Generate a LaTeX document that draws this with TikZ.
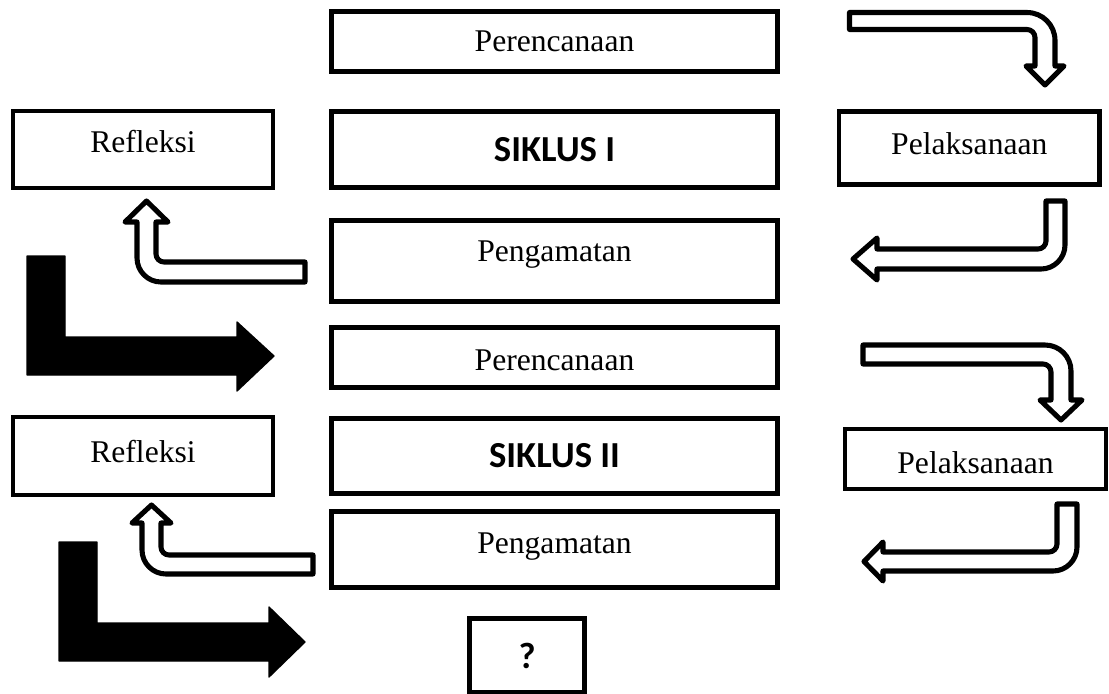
\documentclass[tikz,border=0pt]{standalone}
\usepackage{fontspec}
\setmainfont{Liberation Serif}
\newfontfamily\cali{Carlito}
\usepackage{tikz}

\begin{document}
\begin{tikzpicture}[
		x=0.75pt, y=-0.75pt,
		box/.style={draw, line width=3.9pt, rectangle, minimum width=334.5pt, inner sep=0pt, font=\fontsize{23.7}{28}\selectfont},
		siklus/.style={box, font=\cali\bfseries\fontsize{27.5}{32}\selectfont},
		sidebox/.style={draw, line width=3.4pt, rectangle, minimum width=195pt, inner sep=0pt, font=\fontsize{23.7}{28}\selectfont},
		hollow/.style={draw, fill=white, line width=3.8pt, line join=round},
		fatarrow/.style={draw, fill=black, line width=1pt, line join=round}
	]
	\useasboundingbox (0,0) rectangle (1109,693);

	% Draw the boxes
	\node[box, minimum height=45pt] (plan1) at (554.5,41.5) {Perencanaan};
	\node[siklus, minimum height=57pt] (cyc1) at (554.5,149.5) {SIKLUS I};
	\node[box, minimum height=60.75pt, text depth=14.1pt] (obs1) at (554.5,261) {Pengamatan};
	\node[box, minimum height=45pt, text height=20.2pt] (plan2) at (554.5,357.5) {Perencanaan};
	\node[siklus, minimum height=56.25pt] (cyc2) at (554.5,456) {SIKLUS II};
	\node[box, minimum height=57pt, text depth=10pt] (obs2) at (554.5,549.5) {Pengamatan};
	\node[siklus, minimum width=86.25pt, minimum height=55.9pt] (next) at (527,655.75) {?};

	\node[sidebox, minimum height=57.75pt, text depth=11.7pt] (refl1) at (143,149.5) {Refleksi};
	\node[sidebox, minimum height=58.5pt, text depth=6.4pt] (refl2) at (143,456) {Refleksi};
	\node[sidebox, minimum width=195.5pt, minimum height=55pt, text depth=6.4pt] (act1) at (969.3,148) {Pelaksanaan};
	\node[sidebox, minimum width=195.75pt, minimum height=45pt, text height=21.4pt] (act2) at (975.5,459) {Pelaksanaan};

	% Draw the arrows, cycle I
	\draw[hollow] (849.5,12.5) -- (1027,12.5) .. controls (1042.5,12.5) and (1055,25) .. (1055,40.5)
		-- (1055,66) -- (1064,66) -- (1045,85) -- (1026,66) -- (1035,66) -- (1035,37.5)
		.. controls (1035,33.1) and (1031.4,29.5) .. (1027,29.5) -- (849.5,29.5) -- cycle;
	\draw[hollow] (1046,201) -- (1065,201) -- (1065,245) .. controls (1065,258.2) and (1054.2,269) .. (1041,269)
		-- (877,269) -- (877,280) -- (853,259) -- (877,238) -- (877,249) -- (1038,249)
		.. controls (1042.4,249) and (1046,245.4) .. (1046,241) -- cycle;
	\draw[hollow] (305,262) -- (164,262) .. controls (159.6,262) and (156,258.4) .. (156,254)
		-- (156,222) -- (168,222) -- (146.5,201) -- (125,222) -- (137,222) -- (137,258)
		.. controls (137,271.2) and (147.8,282) .. (161,282) -- (305,282) -- cycle;
	\draw[fatarrow] (27,256) -- (65,256) -- (65,337) -- (237,337) -- (237,322) -- (274,356)
		-- (237,391) -- (237,375) -- (27,375) -- cycle;

	% Draw the arrows, cycle II
	\draw[hollow] (863,345) -- (1045,345) .. controls (1059.4,345) and (1071,356.6) .. (1071,371)
		-- (1071,400) -- (1082,400) -- (1061,420) -- (1040,400) -- (1051,400) -- (1051,372)
		.. controls (1051,367.6) and (1047.4,364) .. (1043,364) -- (863,364) -- cycle;
	\draw[hollow] (1057,504) -- (1077,504) -- (1077,547) .. controls (1077,560.2) and (1066.2,571) .. (1053,571)
		-- (883,571) -- (883,581) -- (864,561.5) -- (883,542) -- (883,552) -- (1049,552)
		.. controls (1053.4,552) and (1057,548.4) .. (1057,544) -- cycle;
	\draw[hollow] (313,555) -- (169,555) .. controls (164.6,555) and (161,551.4) .. (161,547)
		-- (161,523) -- (171,523) -- (151.5,505) -- (132,523) -- (142,523) -- (142,550)
		.. controls (142,563.2) and (152.8,574) .. (166,574) -- (313,574) -- cycle;
	\draw[fatarrow] (59,542) -- (97,542) -- (97,623) -- (269,623) -- (269,607) -- (305,642)
		-- (269,677) -- (269,661) -- (59,661) -- cycle;

\end{tikzpicture}
\end{document}
